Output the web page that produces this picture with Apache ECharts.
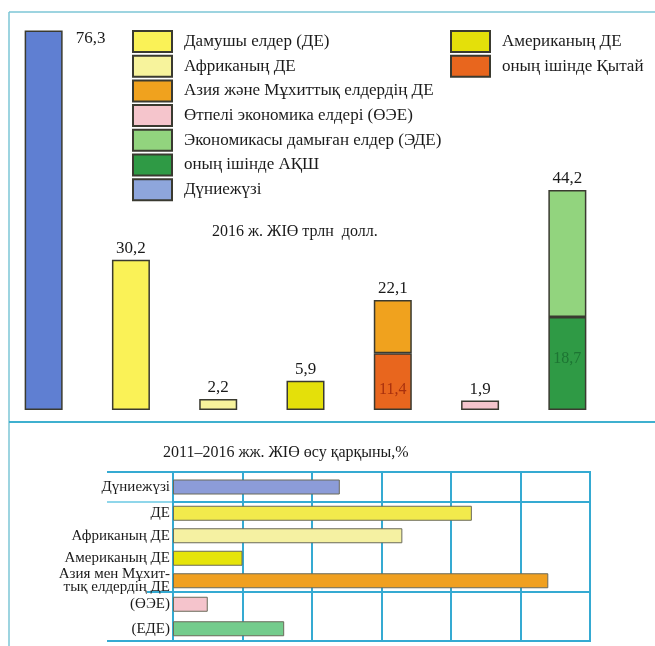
<!DOCTYPE html>
<html>
<head>
<meta charset="utf-8">
<script src="https://cdn.jsdelivr.net/npm/echarts@6/dist/echarts.min.js"></script>
<style>
  html, body { margin: 0; padding: 0; background: #fff; }
  #main { width: 655px; height: 646px; }
</style>
</head>
<body>
<div id="main"></div>
<script>
// 2016 GDP, trillion dollars
const gdpCategories = ['Дүниежүзі', 'ДЕ', 'Африка', 'Америка', 'Азия', 'ӨЭЕ', 'ЭДЕ'];
const gdpTotals = [76.3, 30.2, 2.2, 5.9, 22.1, 1.9, 44.2];
const gdpInner = [null, null, null, null, 11.4, null, 18.7]; // China, USA

// 2011-2016 GDP growth, %
const growthCategories = ['Дүниежүзі', 'ДЕ', 'Африканың ДЕ', 'Американың ДЕ',
  'Азия мен Мұхит-\nтық елдердің ДЕ', '(ӨЭЕ)', '(ЕДЕ)'];
const growthValues = [2.4, 4.3, 3.3, 1.0, 5.4, 0.5, 1.6];
const growthGroups = [1, 4, 2];
const growthTicks = [0, 6, 1]; // min, max, interval

const growthColors = ['#8c9cd8', '#f2ea4c', '#f5f1a2', '#e6e40a', '#f0a020', '#f5c4cc', '#74cc8c'];
const serif = '"Liberation Serif", "DejaVu Serif", serif';
const lineBlue = '#35aad2';
const fmt = v => String(v).replace('.', ',');

function topSeries(name, idx, value, color, label) {
  return {
    name: name,
    type: 'bar',
    stack: 'gdp',
    barWidth: 38,
    xAxisIndex: 0,
    yAxisIndex: 0,
    itemStyle: { color: color, borderColor: '#3a3a30', borderWidth: 1.5 },
    label: Object.assign({
      show: true, position: 'top', distance: 3,
      fontFamily: serif, fontSize: 17, color: '#1a1a1a',
      formatter: p => fmt(gdpTotals[p.dataIndex])
    }, label || {}),
    emphasis: { disabled: true },
    data: gdpCategories.map((c, i) => i === idx ? value : '-')
  };
}

const series = [
  topSeries('Дамушы елдер (ДЕ)', 1, gdpTotals[1], '#faf257'),
  topSeries('Африканың ДЕ', 2, gdpTotals[2], '#f7f39c'),
  topSeries('Американың ДЕ', 3, gdpTotals[3], '#e4e00a'),
  topSeries('оның ішінде Қытай', 4, gdpInner[4], '#e8661e',
    { position: 'inside', offset: [0, 8], fontSize: 16, color: '#a8300e', formatter: p => fmt(gdpInner[p.dataIndex]) }),
  topSeries('Азия және Мұхиттық елдердің ДЕ', 4, +(gdpTotals[4] - gdpInner[4]).toFixed(1), '#f0a21e'),
  topSeries('Өтпелі экономика елдері (ӨЭЕ)', 5, gdpTotals[5], '#f5c5cc'),
  topSeries('оның ішінде АҚШ', 6, gdpInner[6], '#2f9a45',
    { position: 'inside', offset: [0, -5], fontSize: 16, color: '#1d7433', formatter: p => fmt(gdpInner[p.dataIndex]) }),
  topSeries('Экономикасы дамыған елдер (ЭДЕ)', 6, +(gdpTotals[6] - gdpInner[6]).toFixed(1), '#92d47e'),
  topSeries('Дүниежүзі', 0, gdpTotals[0], '#5f7fd2',
    { position: [51, 0], align: 'left', verticalAlign: 'top' })
];

// bottom chart: three stacked grids
const grids = [{ left: -2, width: 613, top: 12, height: 398 }];
const xAxes = [{ type: 'category', gridIndex: 0, data: gdpCategories, show: false }];
const yAxes = [{ type: 'value', gridIndex: 0, min: 0, max: 80, show: false }];
const groupTops = [472, 502, 592];
const groupHeights = [30, 90, 49];
let start = 0;
growthGroups.forEach((n, g) => {
  const gi = g + 1;
  grids.push({
    left: 173, width: 417, top: groupTops[g], height: groupHeights[g],
    show: true, borderColor: lineBlue, borderWidth: 2, backgroundColor: 'transparent'
  });
  xAxes.push({
    type: 'value', gridIndex: gi, min: growthTicks[0], max: growthTicks[1], interval: growthTicks[2],
    axisLabel: { show: false }, axisLine: { show: false }, axisTick: { show: false },
    splitLine: { show: true, lineStyle: { color: lineBlue, width: 2 } }
  });
  yAxes.push({
    type: 'category', gridIndex: gi, inverse: true,
    data: growthCategories.slice(start, start + n),
    axisLine: { show: false }, axisTick: { show: false },
    axisLabel: { fontFamily: serif, fontSize: 15, color: '#1a1a1a', margin: 3, lineHeight: 13 }
  });
  const s0 = start;
  series.push({
    type: 'bar',
    xAxisIndex: gi,
    yAxisIndex: gi,
    barWidth: 15,
    emphasis: { disabled: true },
    data: growthValues.slice(start, start + n).map((v, i) => ({
      value: v,
      itemStyle: { color: growthColors[s0 + i], borderColor: '#6a6a5a', borderWidth: 1 }
    }))
  });
  start += n;
});

const legendText = { fontFamily: serif, fontSize: 17, color: '#1a1a1a', padding: [0, 0, 0, 7] };

const option = {
  backgroundColor: '#fff',
  animation: false,
  title: [
    { text: '2016 ж. ЖІӨ трлн  долл.', left: 207, top: 219,
      textStyle: { fontFamily: serif, fontSize: 16, fontWeight: 'normal', color: '#1a1a1a' } },
    { text: '2011–2016 жж. ЖІӨ өсу қарқыны,%', left: 158, top: 440,
      textStyle: { fontFamily: serif, fontSize: 16, fontWeight: 'normal', color: '#1a1a1a' } }
  ],
  legend: [
    {
      orient: 'vertical', left: 132, top: 30, padding: 0, itemWidth: 39, itemHeight: 21, itemGap: 1.7,
      icon: 'rect', selectedMode: false, textStyle: legendText,
      data: ['Дамушы елдер (ДЕ)', 'Африканың ДЕ', 'Азия және Мұхиттық елдердің ДЕ',
        'Өтпелі экономика елдері (ӨЭЕ)', 'Экономикасы дамыған елдер (ЭДЕ)', 'оның ішінде АҚШ',
        { name: 'Дүниежүзі', itemStyle: { color: '#8ea6dc' } }]
    },
    {
      orient: 'vertical', left: 450, top: 30, padding: 0, itemWidth: 39, itemHeight: 21, itemGap: 1.7,
      icon: 'rect', selectedMode: false, textStyle: legendText,
      data: ['Американың ДЕ', 'оның ішінде Қытай']
    }
  ],
  grid: grids,
  xAxis: xAxes,
  yAxis: yAxes,
  series: series,
  graphic: [
    { type: 'line', shape: { x1: 9, y1: 12, x2: 655, y2: 12 }, style: { stroke: '#7cc6d6', lineWidth: 1.5 } },
    { type: 'line', shape: { x1: 9, y1: 12, x2: 9, y2: 646 }, style: { stroke: '#7cc6d6', lineWidth: 1.5 } },
    { type: 'line', shape: { x1: 9, y1: 422, x2: 655, y2: 422 }, style: { stroke: '#3fb0cf', lineWidth: 2 } },
    { type: 'line', shape: { x1: 107, y1: 472, x2: 173, y2: 472 }, style: { stroke: lineBlue, lineWidth: 2 } },
    { type: 'line', shape: { x1: 107, y1: 502, x2: 173, y2: 502 }, style: { stroke: '#8fd6ea', lineWidth: 2 } },
    { type: 'line', shape: { x1: 147, y1: 592, x2: 173, y2: 592 }, style: { stroke: lineBlue, lineWidth: 2 } },
    { type: 'line', shape: { x1: 107, y1: 641, x2: 173, y2: 641 }, style: { stroke: lineBlue, lineWidth: 2 } }
  ]
};

let myChart = echarts.init(document.getElementById('main'));
myChart.setOption(option);
</script>
</body>
</html>
